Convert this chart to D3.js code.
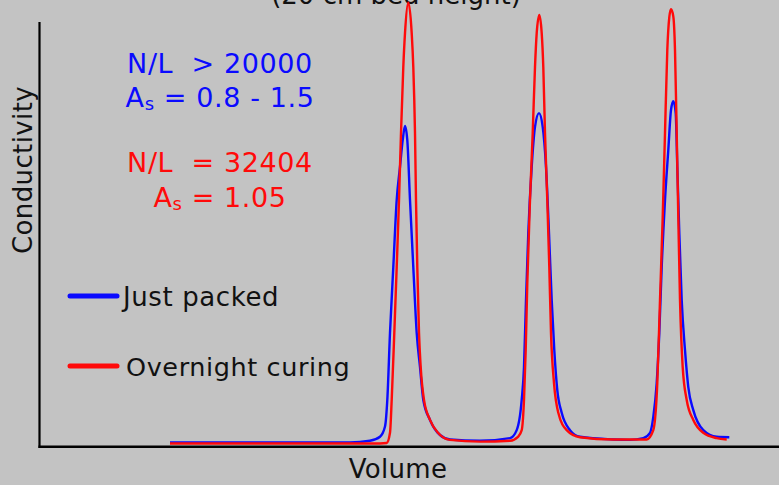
<!DOCTYPE html>
<html>
<head>
<meta charset="utf-8">
<script src="https://cdn.jsdelivr.net/npm/d3@7"></script>
<style>
  html, body { margin: 0; padding: 0; background: #c3c3c3; }
  svg { display: block; }
  text { font-family: "DejaVu Sans", Verdana, sans-serif; }
</style>
</head>
<body>
<svg id="chart" width="779" height="485"></svg>
<script>
// ---- data (volume in mL, conductivity in arbitrary units) ----
const titleText = "(20 cm bed height)";
const xLabel = "Volume";
const yLabel = "Conductivity";
const seriesNames = ["Just packed", "Overnight curing"];
const seriesColors = ["#0a0aff", "#ff0a0a"];

const justPackedVolume = [13.0, 31.0, 33.0, 34.0, 34.5, 34.73, 35.0, 35.33, 35.67, 36.0, 36.27, 36.5, 36.73, 37.0, 37.33, 37.67, 38.0, 38.33, 39.0, 40.0, 41.0, 44.0, 47.0, 47.67, 48.17, 48.4, 48.6, 48.83, 49.17, 49.5, 49.9, 50.27, 50.6, 50.9, 51.17, 51.43, 51.73, 52.17, 53.0, 54.0, 57.3, 59.0, 60.33, 61.0, 61.33, 61.67, 61.93, 62.17, 62.5, 62.83, 63.1, 63.33, 63.57, 63.73, 63.93, 64.17, 64.5, 64.83, 65.33, 66.33, 67.67, 68.93];
const justPackedCond   = [1.0, 1.0, 1.4, 2.3, 4.6, 10.6, 25.7, 40.5, 55.6, 63.1, 69.1, 72.3, 69.1, 55.6, 40.5, 25.7, 18.0, 10.6, 6.1, 2.7, 1.7, 1.4, 2.0, 3.8, 10.6, 18.0, 33.1, 48.2, 63.1, 72.1, 75.2, 72.1, 63.1, 48.2, 33.1, 21.8, 12.8, 7.7, 3.8, 2.3, 1.7, 1.6, 2.0, 3.2, 6.8, 14.4, 25.7, 40.5, 55.6, 66.9, 75.9, 77.9, 75.2, 63.1, 48.2, 33.1, 21.8, 13.5, 8.3, 3.8, 2.3, 2.2];

const overnightVolume = [13.0, 34.0, 34.67, 35.0, 35.17, 35.43, 35.67, 35.9, 36.1, 36.33, 36.5, 36.83, 37.17, 37.33, 37.5, 37.6, 37.73, 37.9, 38.07, 38.4, 39.0, 39.8, 41.0, 44.0, 47.0, 47.8, 48.17, 48.4, 48.57, 48.73, 49.0, 49.27, 49.5, 49.67, 49.93, 50.17, 50.33, 50.5, 50.73, 50.93, 51.1, 51.4, 51.83, 52.67, 54.0, 57.3, 60.67, 61.33, 61.73, 62.0, 62.27, 62.5, 62.73, 62.93, 63.1, 63.33, 63.5, 63.67, 63.83, 64.0, 64.27, 64.67, 65.33, 66.33, 67.67, 68.67];
const overnightCond   = [0.8, 0.8, 0.9, 3.2, 10.6, 25.7, 40.5, 55.6, 70.7, 85.6, 93.2, 100.1, 93.2, 85.6, 70.7, 55.6, 40.5, 25.7, 18.0, 10.6, 6.1, 3.2, 1.6, 1.2, 1.4, 2.3, 3.8, 10.6, 21.8, 36.9, 55.6, 70.7, 85.6, 93.2, 97.3, 93.2, 85.6, 70.7, 55.6, 40.5, 25.7, 14.4, 7.7, 3.8, 2.2, 1.7, 1.7, 3.8, 14.4, 33.1, 51.8, 70.7, 89.4, 96.8, 98.6, 97.0, 89.4, 70.7, 51.8, 33.1, 18.0, 10.6, 6.1, 3.2, 2.0, 1.7];

const noteBlue = [["N/L  > 20000"], ["A", "s", " = 0.8 - 1.5"]];
const noteRed  = [["N/L  = 32404"], ["A", "s", " = 1.05"]];

// ---- layout ----
const W = 779, H = 485;
const svg = d3.select("#chart");
svg.append("rect").attr("width", W).attr("height", H).attr("fill", "#c3c3c3");

const x = d3.scaleLinear().domain([0, 74]).range([40, 780]);
const y = d3.scaleLinear().domain([0, 100]).range([447, 3]);

// title (cut off at top, as in the original)
svg.append("text").attr("x", 396).attr("y", 4).attr("text-anchor", "middle")
  .attr("font-size", 26).attr("fill", "#111").text(titleText);

// axes
svg.append("line").attr("x1", 39.5).attr("x2", 39.5).attr("y1", 22).attr("y2", 448)
  .attr("stroke", "#000").attr("stroke-width", 2.2);
svg.append("line").attr("x1", 38.5).attr("x2", W).attr("y1", 446.8).attr("y2", 446.8)
  .attr("stroke", "#000").attr("stroke-width", 2.5);

// axis labels
svg.append("text").attr("x", 398).attr("y", 478).attr("text-anchor", "middle")
  .attr("font-size", 26).attr("letter-spacing", 0.3).attr("fill", "#111").text(xLabel);
svg.append("text").attr("transform", "translate(32,170) rotate(-90)").attr("text-anchor", "middle")
  .attr("font-size", 26).attr("letter-spacing", 0.4).attr("fill", "#111").text(yLabel);

// curves
const series = [
  justPackedVolume.map((v, i) => [v, justPackedCond[i]]),
  overnightVolume.map((v, i) => [v, overnightCond[i]])
];
const line = d3.line().x(d => x(d[0])).y(d => y(d[1])).curve(d3.curveMonotoneX);
series.forEach((s, i) => {
  svg.append("path").datum(s).attr("d", line).attr("fill", "none")
    .attr("stroke", seriesColors[i]).attr("stroke-width", 2.4)
    .attr("stroke-linejoin", "round");
});

// legend
const legY = [296, 366];
const legFont = [26, 25.5];
seriesNames.forEach((n, i) => {
  svg.append("line").attr("x1", 70).attr("x2", 117).attr("y1", legY[i]).attr("y2", legY[i])
    .attr("stroke", seriesColors[i]).attr("stroke-width", 5).attr("stroke-linecap", "round");
  svg.append("text").attr("x", i === 0 ? 123 : 126).attr("y", legY[i] + 10)
    .attr("font-size", legFont[i]).attr("letter-spacing", 0.6).attr("fill", "#111").text(n);
});

// annotations
function note(lines, color, baselines) {
  lines.forEach((ln, i) => {
    const t = svg.append("text").attr("x", 220).attr("y", baselines[i]).attr("text-anchor", "middle")
      .attr("font-size", 27).attr("letter-spacing", 0.6).attr("fill", color).style("white-space", "pre");
    if (ln.length === 1) {
      t.text(ln[0]);
    } else {
      t.append("tspan").text(ln[0]);
      t.append("tspan").attr("font-size", 18).attr("dy", 3).text(ln[1]);
      t.append("tspan").attr("dy", -3).text(ln[2]);
    }
  });
}
note(noteBlue, seriesColors[0], [73, 107]);
note(noteRed, seriesColors[1], [172, 207]);
</script>
</body>
</html>
